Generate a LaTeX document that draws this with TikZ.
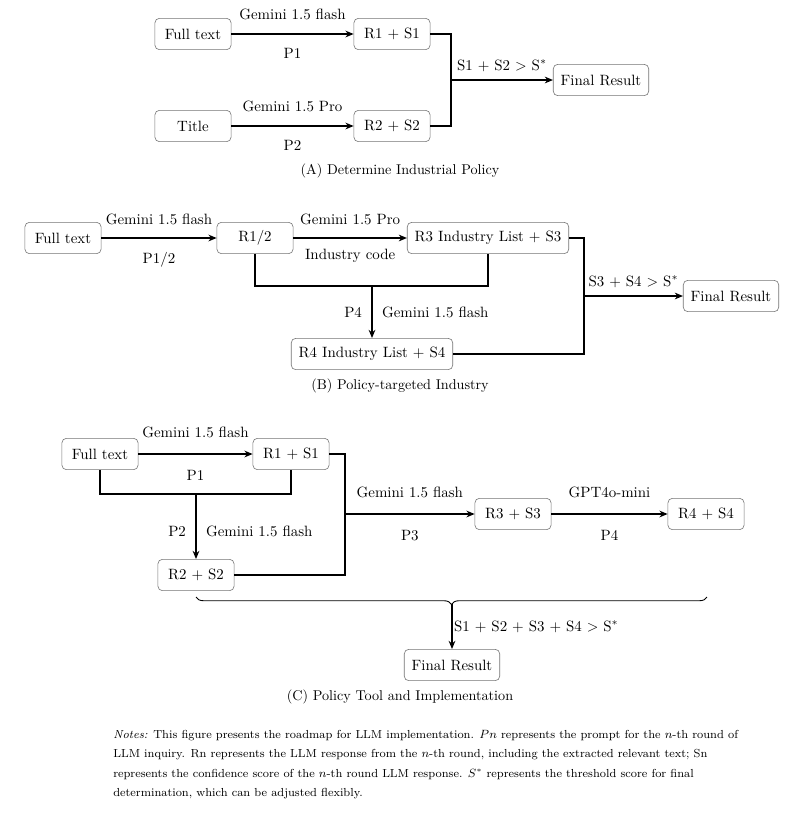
\documentclass[tikz,border=0pt]{standalone}
\usepackage{amsmath}
\usetikzlibrary{arrows.meta,positioning,decorations.pathreplacing}

\tikzset{
    stage/.style={draw=black!55, thin, rounded corners=3pt, minimum width=51pt, minimum height=21pt, inner xsep=5pt},
    flow/.style={-{Stealth[length=5.5pt,width=4.5pt]}, line width=0.9pt},
    link/.style={line width=0.9pt},
    caption/.style={font=\fontsize{9.5pt}{11pt}\selectfont},
    notes/.style={font=\fontsize{7.8pt}{12.9pt}\selectfont, align=left, inner sep=0pt, anchor=north west},
}

\begin{document}
\begin{tikzpicture}[x=0.67pt,y=-0.67pt]
    \useasboundingbox (0,0) rectangle (803,816);

    % (A) Determine Industrial Policy
    \node[stage] (fullA) at (193,34) {Full text};
    \node[stage] (r1A) at (392,34) {R1 + S1};
    \node[stage] (titleA) at (193,126) {Title};
    \node[stage] (r2A) at (392,126) {R2 + S2};
    \node[stage] (finalA) at (601,80) {Final Result};
    \coordinate (joinA) at (451,80);
    \draw[flow] (fullA) -- node[above=6pt] {Gemini 1.5 flash} node[below=6pt] {P1} (r1A);
    \draw[flow] (titleA) -- node[above=6pt] {Gemini 1.5 Pro} node[below=6pt] {P2} (r2A);
    \draw[link] (r1A.east) -| (joinA) |- (r2A.east);
    \draw[flow] (joinA) -- node[above=2pt] {S1 $+$ S2 $>$ S$^*$} (finalA);
    \node[caption] (capA) at (400,171) {(A) Determine Industrial Policy};

    % (B) Policy-targeted Industry
    \node[stage] (fullB) at (63,238) {Full text};
    \node[stage] (r12B) at (255,238) {R1/2};
    \node[stage] (r3B) at (488,238) {R3 Industry List + S3};
    \node[stage] (r4B) at (372,354) {R4 Industry List + S4};
    \node[stage] (finalB) at (731,296) {Final Result};
    \coordinate (splitB) at (372,286);
    \coordinate (joinB) at (584,296);
    \draw[flow] (fullB) -- node[above=5pt] {Gemini 1.5 flash} node[below=6pt] {P1/2} (r12B);
    \draw[flow] (r12B) -- node[above=5pt] {Gemini 1.5 Pro} node[below=4pt] {Industry code} (r3B);
    \draw[link] (r12B.south) |- (splitB) -| (r3B.south);
    \draw[flow] (splitB) -- node[left=3pt] {P4} node[right=3pt] {Gemini 1.5 flash} (r4B);
    \draw[link] (r3B.east) -| (joinB) |- (r4B.east);
    \draw[flow] (joinB) -- node[above=2pt] {S3 $+$ S4 $>$ S$^*$} (finalB);
    \node[caption] (capB) at (400,386) {(B) Policy-targeted Industry};

    % (C) Policy Tool and Implementation
    \node[stage] (fullC) at (100,454) {Full text};
    \node[stage] (r1C) at (291,454) {R1 + S1};
    \node[stage] (r2C) at (196,575) {R2 + S2};
    \node[stage] (r3C) at (513,514) {R3 + S3};
    \node[stage] (r4C) at (706,514) {R4 + S4};
    \node[stage] (finalC) at (452,665) {Final Result};
    \coordinate (splitC) at (196,494);
    \coordinate (joinC) at (345,514);
    \coordinate (braceL) at (196,597);
    \coordinate (braceR) at (707,597);
    \coordinate (braceTip) at (452,604);
    \draw[flow] (fullC) -- node[above=7pt] {Gemini 1.5 flash} node[below=7pt] {P1} (r1C);
    \draw[link] (fullC.south) |- (splitC) -| (r1C.south);
    \draw[flow] (splitC) -- node[pos=0.57, left=3pt] {P2} node[pos=0.57, right=3pt] {Gemini 1.5 flash} (r2C);
    \draw[link] (r1C.east) -| (joinC) |- (r2C.east);
    \draw[flow] (joinC) -- node[above=7pt] {Gemini 1.5 flash} node[below=7pt] {P3} (r3C);
    \draw[flow] (r3C) -- node[above=7pt] {GPT4o-mini} node[below=7pt] {P4} (r4C);
    \draw[semithick, decorate, decoration={brace, mirror, amplitude=5pt}] (braceL) -- (braceR);
    \draw[flow] (braceTip) -- node[right, inner sep=1pt] {S1 $+$ S2 $+$ S3 $+$ S4 $>$ S$^*$} (finalC);
    \node[caption] (capC) at (400,697) {(C) Policy Tool and Implementation};

    % notes
    \node[notes] (noteText) at (113,730) {\textit{Notes:} This figure presents the roadmap for LLM implementation. $Pn$ represents the prompt for the $n$-th round of\\
        LLM inquiry. Rn represents the LLM response from the $n$-th round, including the extracted relevant text; Sn\\
        represents the confidence score of the $n$-th round LLM response. $S^*$ represents the threshold score for final\\
        determination, which can be adjusted flexibly.};
\end{tikzpicture}
\end{document}
